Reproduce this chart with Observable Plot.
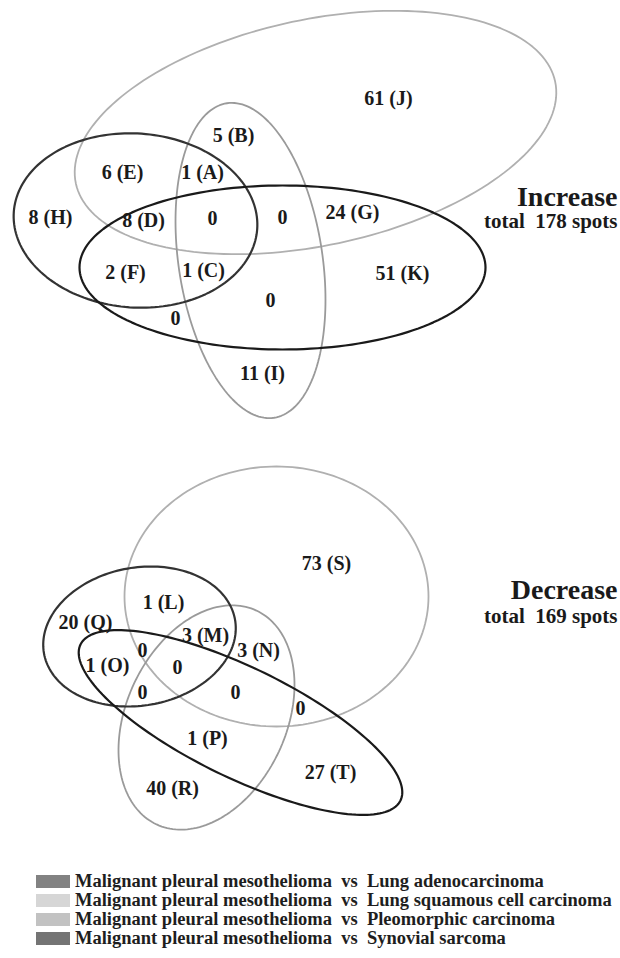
<!DOCTYPE html>
<html>
<head>
<meta charset="utf-8">
<script src="https://cdn.jsdelivr.net/npm/d3@7"></script>
<script src="https://cdn.jsdelivr.net/npm/@observablehq/plot@0.6"></script>
<style>
  html, body { margin: 0; padding: 0; background: #fff; width: 620px; overflow: hidden; }
  #chart svg { display: block; }
  #legend { padding-top: 0px; font-family: "Liberation Serif", "Times New Roman", serif; font-weight: bold; font-size: 18.5px; color: #1e1e1e; }
  .row { display: flex; align-items: center; height: 19px; line-height: 19px; white-space: pre; }
  .sw { display: inline-block; width: 34px; height: 13px; margin-left: 36px; margin-right: 5px; flex: none; }
</style>
</head>
<body>
<div id="chart"></div>
<div id="legend"></div>
<script>
// ---- comparison sets (legend) ----
const setPrefix = "Malignant pleural mesothelioma  vs  ";
const setNames = ["Lung adenocarcinoma", "Lung squamous cell carcinoma", "Pleomorphic carcinoma", "Synovial sarcoma"];
const setColors = ["#333333", "#b0b0b0", "#9a9a9a", "#1a1a1a"];
const swatchColors = ["#828282", "#d6d6d6", "#c2c2c2", "#747474"];

// ---- Increase panel: region counts and letters ----
const incTitle = "Increase";
const incTotal = 178;
const incCounts  = [61, 5, 6, 1, 8, 8, 0, 0, 24, 2, 1, 51, 0, 0, 11];
const incLetters = ["J", "B", "E", "A", "H", "D", "", "", "G", "F", "C", "K", "", "", "I"];
const incLabelX  = [388, 233, 122, 202, 50, 143, 212, 282, 352, 125, 203, 402, 270, 175, 262];
const incLabelY  = [98, 135, 172, 172, 217, 220, 218, 217, 212, 272, 270, 273, 300, 318, 373];

// ellipse layout (one per comparison set), in layout units
const incCx = [135, 315, 250, 282];
const incCy = [220, 132, 260, 267];
const incRx = [122, 245, 72, 203];
const incRy = [87, 113, 159, 82];
const incAngle = [4, -12, -8.5, 0];

// ---- Decrease panel ----
const decTitle = "Decrease";
const decTotal = 169;
const decCounts  = [73, 1, 20, 3, 3, 0, 1, 0, 0, 0, 0, 1, 27, 40];
const decLetters = ["S", "L", "Q", "M", "N", "", "O", "", "", "", "", "P", "T", "R"];
const decLabelX  = [326, 163, 85, 205, 258, 142, 107, 177, 142, 235, 300, 207, 330, 172];
const decLabelY  = [563, 602, 622, 635, 650, 650, 665, 667, 692, 692, 708, 738, 772, 788];

const decCx = [139, 276, 206, 240];
const decCy = [636, 596, 717, 722];
const decRx = [97, 152, 80, 178];
const decRy = [69, 130, 118, 55];
const decAngle = [-10, 0, 25, 26];

// panel caption anchors
const titleX = 617;
const incTitleY = [205, 227];
const decTitleY = [598, 622];

const W = 620, H = 872;
const serif = "'Liberation Serif', 'Times New Roman', serif";

function ellipsePoints(cx, cy, rx, ry, angDeg) {
  const a = angDeg * Math.PI / 180, ca = Math.cos(a), sa = Math.sin(a);
  const pts = [];
  const n = 180;
  for (let i = 0; i < n; i++) {
    const t = 2 * Math.PI * i / n;
    const u = rx * Math.cos(t), v = ry * Math.sin(t);
    pts.push({x: cx + u * ca - v * sa, y: cy + u * sa + v * ca});
  }
  return pts;
}

function ellipseMarks(cx, cy, rx, ry, ang) {
  // light sets first, dark sets on top
  const order = [1, 2, 0, 3];
  return order.map(i => Plot.line(ellipsePoints(cx[i], cy[i], rx[i], ry[i], ang[i]), {
    x: "x", y: "y", curve: "linear-closed",
    stroke: setColors[i], strokeWidth: (i === 0 || i === 3) ? 2.2 : 1.8
  }));
}

function labelData(counts, letters, xs, ys) {
  return counts.map((c, i) => ({x: xs[i], y: ys[i], text: letters[i] ? `${c} (${letters[i]})` : `${c}`}));
}

const labels = labelData(incCounts, incLetters, incLabelX, incLabelY)
  .concat(labelData(decCounts, decLetters, decLabelX, decLabelY));

const titles = [
  {x: titleX, y: incTitleY[0], text: incTitle, size: 28},
  {x: titleX, y: incTitleY[1], text: `total  ${incTotal} spots`, size: 21},
  {x: titleX, y: decTitleY[0], text: decTitle, size: 28},
  {x: titleX, y: decTitleY[1], text: `total  ${decTotal} spots`, size: 21}
];

const chart = Plot.plot({
  width: W, height: H,
  margin: 0, marginTop: 0, marginRight: 0, marginBottom: 0, marginLeft: 0,
  x: {domain: [0, W], range: [0, W], axis: null},
  y: {domain: [0, H], range: [0, H], axis: null},
  style: {background: "#fff", overflow: "visible"},
  marks: [
    ...ellipseMarks(incCx, incCy, incRx, incRy, incAngle),
    ...ellipseMarks(decCx, decCy, decRx, decRy, decAngle),
    Plot.text(labels, {x: "x", y: "y", text: "text", fontSize: 20, fontWeight: "bold", fontFamily: serif, fill: "#1a1a1a"}),
    Plot.text(titles.filter(d => d.size === 28), {x: "x", y: "y", text: "text", fontSize: 28, fontWeight: "bold", fontFamily: serif, fill: "#1a1a1a", textAnchor: "end", lineAnchor: "bottom"}),
    Plot.text(titles.filter(d => d.size === 21), {x: "x", y: "y", text: "text", fontSize: 21, fontWeight: "bold", fontFamily: serif, fill: "#1a1a1a", textAnchor: "end", lineAnchor: "bottom"})
  ]
});
document.getElementById("chart").appendChild(chart);

const legend = document.getElementById("legend");
setNames.forEach((name, i) => {
  const row = document.createElement("div");
  row.className = "row";
  const sw = document.createElement("span");
  sw.className = "sw";
  sw.style.background = swatchColors[i];
  const tx = document.createElement("span");
  tx.textContent = setPrefix + name;
  row.appendChild(sw);
  row.appendChild(tx);
  legend.appendChild(row);
});
</script>
</body>
</html>
